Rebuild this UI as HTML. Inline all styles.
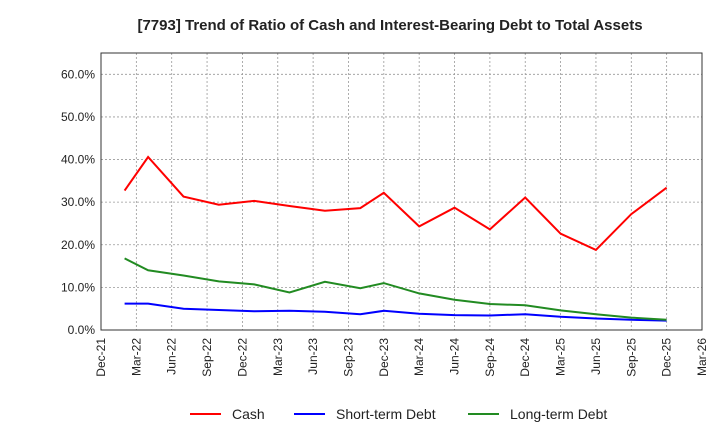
<!DOCTYPE html>
<html><head><meta charset="utf-8">
<style>
html,body{margin:0;padding:0;background:#fff;}
svg{display:block;font-family:"Liberation Sans",Arial,sans-serif;}
</style></head>
<body>
<svg id="chart" width="720" height="440" viewBox="0 0 720 440">
<text x="390" y="30" text-anchor="middle" font-size="15" font-weight="bold" fill="#222">[7793]  Trend of Ratio of Cash and Interest-Bearing Debt to Total Assets</text>
<g id="grid"></g>
<g id="axes"></g>
<g id="series"></g>
<g id="legend"></g>
</svg>
<script>
const xTickLabels=["Dec-21","Mar-22","Jun-22","Sep-22","Dec-22","Mar-23","Jun-23","Sep-23","Dec-23","Mar-24","Jun-24","Sep-24","Dec-24","Mar-25","Jun-25","Sep-25","Dec-25","Mar-26"];
const yTicks=[0,10,20,30,40,50,60];
// months since Dec-21
const pointMonths=[2,4,7,10,13,16,19,22,24,27,30,33,36,39,42,45,48];
const cash=[32.7,40.6,31.3,29.4,30.3,29.1,28.0,28.6,32.2,24.3,28.7,23.6,31.1,22.6,18.8,27.2,33.4];
const shortDebt=[6.2,6.2,5.0,4.7,4.4,4.5,4.3,3.7,4.5,3.8,3.5,3.4,3.7,3.1,2.7,2.4,2.2];
const longDebt=[16.8,14.0,12.8,11.4,10.7,8.8,11.3,9.8,11.0,8.6,7.1,6.1,5.8,4.6,3.7,2.9,2.4];
const seriesNames=["Cash","Short-term Debt","Long-term Debt"];
const seriesColors=["#ff0000","#0000ff","#228b22"];

const L=101,R=702,T=53,B=330,yMax=65;
const xMonths=51;
const xs=m=>L+(R-L)*m/xMonths;
const ys=v=>B-(B-T)*v/yMax;
const NS="http://www.w3.org/2000/svg";
function mk(tag,attrs,parent){const e=document.createElementNS(NS,tag);for(const k in attrs)e.setAttribute(k,attrs[k]);parent.appendChild(e);return e;}
const grid=document.getElementById('grid'),axes=document.getElementById('axes'),ser=document.getElementById('series'),leg=document.getElementById('legend');

mk('rect',{x:L,y:T,width:R-L,height:B-T,fill:'#fff',stroke:'none'},grid);
for(const v of yTicks){
  const y=ys(v);
  const g=mk('line',{x1:L,x2:R,y1:y,y2:y,stroke:'#999','stroke-dasharray':'2,2','stroke-width':0.8},grid);
  
  
  const t=mk('text',{x:L-6,y:y+4,'text-anchor':'end','font-size':12,fill:'#222'},axes);
  t.textContent=v.toFixed(1)+'%';
  
  
}
xTickLabels.forEach((lab,i)=>{
  const x=xs(i*3);
  const g=mk('line',{x1:x,x2:x,y1:T,y2:B,stroke:'#999','stroke-dasharray':'2,2','stroke-width':0.8},grid);
  
  
  const t=mk('text',{x:0,y:0,'text-anchor':'end','font-size':12,fill:'#222',transform:`translate(${x+4},${B+8}) rotate(-90)`},axes);
  t.textContent=lab;
  
  
});
const fr=mk('rect',{x:L,y:T,width:R-L,height:B-T,fill:'none',stroke:'#333','stroke-width':1},axes);



[cash,shortDebt,longDebt].forEach((arr,si)=>{
  const pts=arr.map((v,i)=>xs(pointMonths[i]).toFixed(1)+','+ys(v).toFixed(1)).join(' ');
  const p=mk('polyline',{points:pts,fill:'none',stroke:seriesColors[si],'stroke-width':2},ser);
  
  
});
const legX=[190,294,468];
seriesNames.forEach((n,i)=>{
  const l=mk('line',{x1:legX[i],x2:legX[i]+31,y1:414,y2:414,stroke:seriesColors[i],'stroke-width':2},leg);
  
  
  const t=mk('text',{x:legX[i]+42,y:419,'font-size':14,fill:'#222'},leg);
  t.textContent=n;
  
  
});
</script>
</body></html>
